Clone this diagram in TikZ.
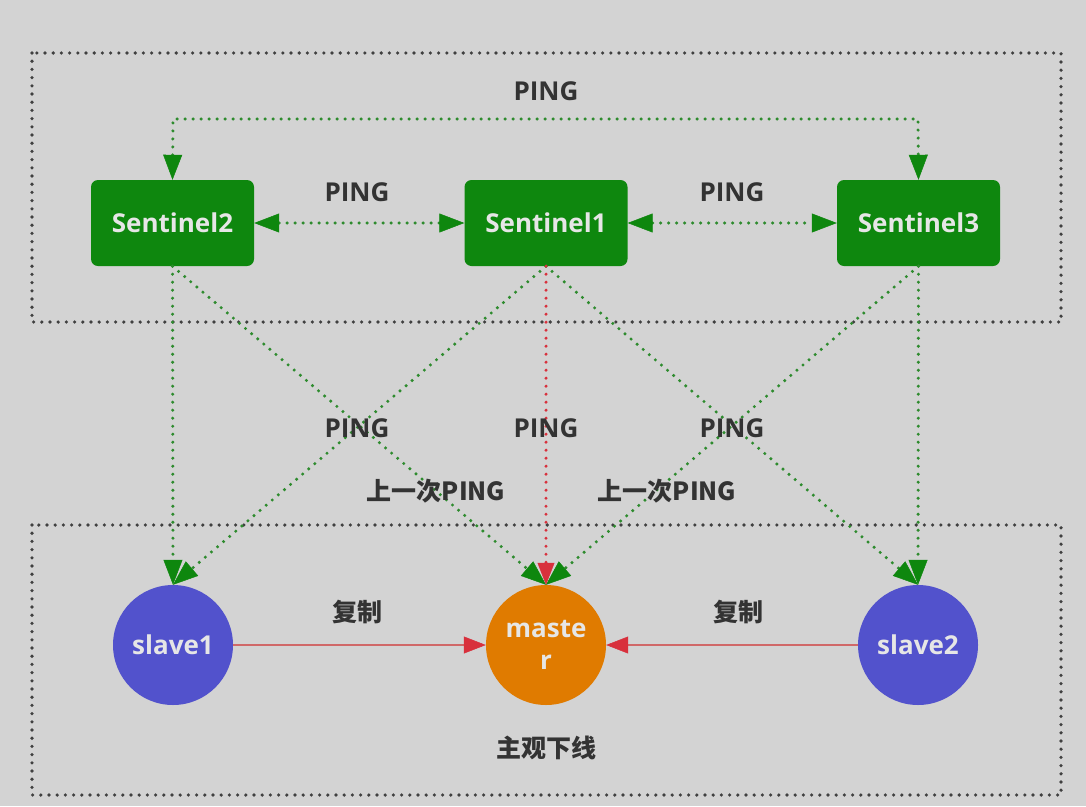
\documentclass[tikz,border=0pt]{standalone}
\usepackage{fontspec}
\setmainfont{Open Sans}
\newfontfamily\cjk{Noto Sans CJK SC}
\usetikzlibrary{arrows.meta}
\definecolor{bg}{HTML}{D3D3D3}
\definecolor{sgreen}{HTML}{0E870E}
\definecolor{dgreen}{HTML}{2E8B2E}
\definecolor{sblue}{HTML}{5252CC}
\definecolor{sorange}{HTML}{E07B00}
\definecolor{sred}{HTML}{D8303C}
\definecolor{lred}{HTML}{D06868}
\definecolor{txt}{HTML}{333333}
\definecolor{wtxt}{HTML}{E6E6E6}
\tikzset{
  sentbox/.style={rectangle, rounded corners=7pt, fill=sgreen, minimum width=163pt, minimum height=86pt, text=wtxt, font=\bfseries\fontsize{26}{28}\selectfont, inner sep=0pt},
  circ/.style={circle, minimum size=120pt, inner sep=0pt, text=wtxt, font=\bfseries\fontsize{26}{32}\selectfont, align=center},
  lab/.style={text=txt, font=\bfseries\fontsize{26}{28}\selectfont, inner sep=0pt},
  clab/.style={text=txt, font=\cjk\bfseries\fontsize{25}{27}\selectfont, inner sep=0pt},
  gdot/.style={draw=dgreen, line width=3.4pt, line cap=round, dash pattern=on 0pt off 8pt},
  rdot/.style={draw=sred, line width=3.4pt, line cap=round, dash pattern=on 0pt off 8pt},
  boxdot/.style={draw=black!75, line width=3.6pt, line cap=round, dash pattern=on 0pt off 8.2pt},
  gtri/.style={Triangle[length=25pt,width=19pt,fill=sgreen,color=sgreen,line width=0.5pt,line cap=butt]},
  gtip/.style={-{Triangle[length=25pt,width=19pt,fill=sgreen,color=sgreen,line width=0.5pt,line cap=butt]}},
  gtips/.style={{Triangle[length=25pt,width=19pt,fill=sgreen,color=sgreen,line width=0.5pt,line cap=butt]}-{Triangle[length=25pt,width=19pt,fill=sgreen,color=sgreen,line width=0.5pt,line cap=butt]}},
  rtip/.style={-{Triangle[length=22pt,width=17pt,fill=sred,color=sred,line width=0.5pt,line cap=butt]}},
}
\begin{document}
\begin{tikzpicture}[x=1pt,y=-1pt]
\fill[bg] (0,0) rectangle (1086,806);
\useasboundingbox (0,0) rectangle (1086,806);
% outer dotted boxes
\draw[boxdot] (32,53) rectangle (1061,322);
\draw[boxdot] (32,525) rectangle (1061,795);
% nodes
\node[sentbox] (s2) at (172.5,223) {Sentinel2};
\node[sentbox] (s1) at (546,223) {Sentinel1};
\node[sentbox] (s3) at (918.5,223) {Sentinel3};
\node[circ, fill=sblue] (sl1) at (173,645) {slave1};
\node[circ, fill=sorange] (m) at (546,645) {maste\\r};
\node[circ, fill=sblue] (sl2) at (918,645) {slave2};
% top loop
\coordinate (tl) at (173,119);
\coordinate (tr) at (918,119);
\draw[gdot, gtips] (s2.north) -- (tl) -- (tr) -- (s3.north);
% horizontal pings
\draw[gdot, gtips] (s2.east) -- (s1.west);
\draw[gdot, gtips] (s1.east) -- (s3.west);
% down connectors
\draw[gdot, gtip] (s2.south) -- (sl1.north);
\draw[gdot, gtip] (s2.south) -- (m.north);
\draw[gdot, gtip] (s1.south) -- (sl1.north);
\draw[gdot, gtip] (s1.south) -- (sl2.north);
\draw[gdot, gtip] (s3.south) -- (m.north);
\draw[gdot, gtip] (s3.south) -- (sl2.north);
\draw[rdot, rtip] (s1.south) -- (m.north);
% replication
\draw[lred, line width=2pt, rtip] (sl1.east) -- (m.west);
\draw[lred, line width=2pt, rtip] (sl2.west) -- (m.east);
% labels
\node[lab] (p0) at (546,91) {PING};
\node[lab] (p1) at (357,192) {PING};
\node[lab] (p2) at (732,192) {PING};
\node[lab] (p3) at (357,428) {PING};
\node[lab] (p4) at (546,428) {PING};
\node[lab] (p5) at (732,428) {PING};
\node[clab] (q1) at (436,491) {上一次PING};
\node[clab] (q2) at (667,491) {上一次PING};
\node[clab] (c1) at (357,612) {复制};
\node[clab] (c2) at (738,612) {复制};
\node[clab] (zg) at (546,748) {主观下线};
\end{tikzpicture}
\end{document}
